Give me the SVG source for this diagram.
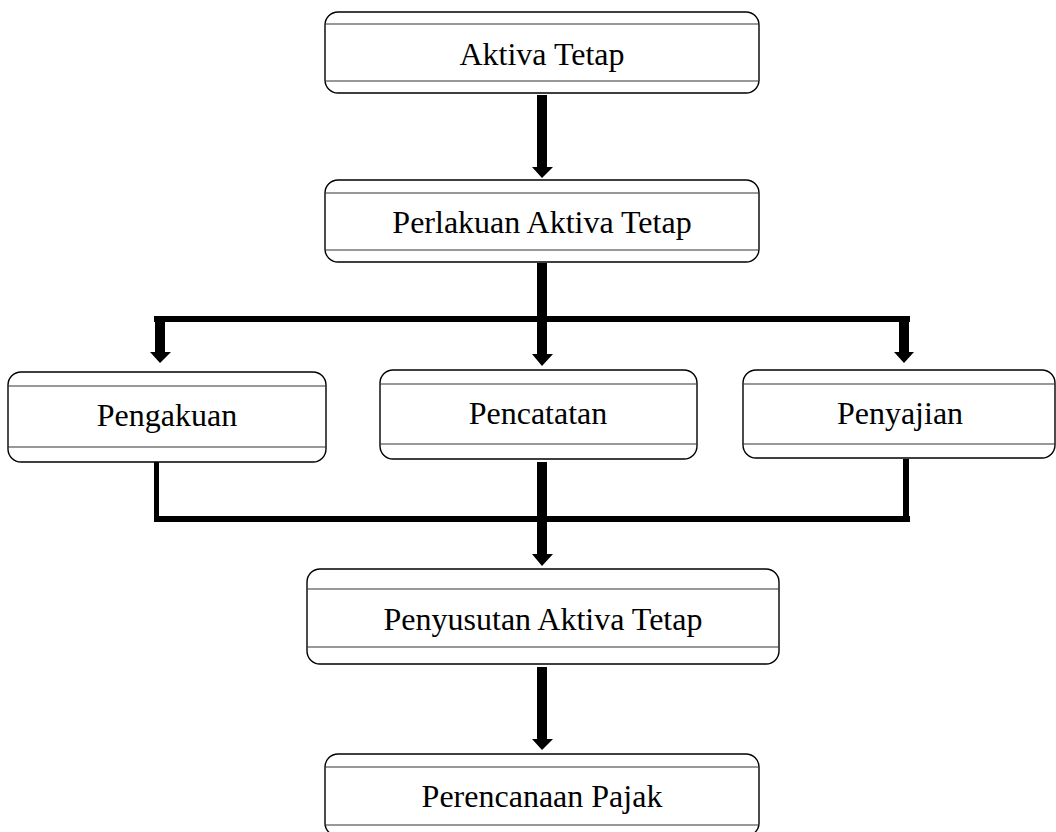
<svg xmlns="http://www.w3.org/2000/svg" width="1056" height="832" viewBox="0 0 1056 832">
<style>
.box{fill:#fff;stroke:#000;stroke-width:1.4}
.sep{stroke:#333;stroke-width:1.2}
.lbl{font-family:"Liberation Serif","Times New Roman",serif;font-size:32px;fill:#000;text-anchor:middle}
.bar{fill:#000}
</style>
<rect width="1056" height="832" fill="#fff"/>
<g id="connectors">
  <!-- Aktiva Tetap -> Perlakuan -->
  <polygon class="bar" points="537,95 547,95 547,167 553,167 542,178 532,167 537,167"/>
  <!-- Perlakuan -> split -->
  <polygon class="bar" points="537,263 547,263 547,354 553,354 542,366 532,354 537,354"/>
  <rect class="bar" x="154" y="316" width="756" height="6"/>
  <polygon class="bar" points="155,316 165,316 165,352 171,352 160,363 150,352 155,352"/>
  <polygon class="bar" points="899,316 909,316 909,352 914,352 904,363 894,352 899,352"/>
  <!-- merge -->
  <rect class="bar" x="154" y="462" width="5" height="60"/>
  <rect class="bar" x="903" y="459" width="6" height="63"/>
  <rect class="bar" x="154" y="516" width="756" height="6"/>
  <polygon class="bar" points="537,462 547,462 547,554 553,554 542,566 532,554 537,554"/>
  <!-- Penyusutan -> Perencanaan -->
  <polygon class="bar" points="537,667 547,667 547,739 553,739 542,750 532,739 537,739"/>
</g>
<g id="node-aktiva-tetap">
  <rect class="box" x="325" y="12" width="434" height="81" rx="13"/>
  <line class="sep" x1="325" y1="24" x2="759" y2="24"/>
  <line class="sep" x1="325" y1="81" x2="759" y2="81"/>
  <text class="lbl" x="542" y="65">Aktiva Tetap</text>
</g>
<g id="node-perlakuan">
  <rect class="box" x="325" y="180" width="434" height="82" rx="13"/>
  <line class="sep" x1="325" y1="193" x2="759" y2="193"/>
  <line class="sep" x1="325" y1="250" x2="759" y2="250"/>
  <text class="lbl" x="542" y="233">Perlakuan Aktiva Tetap</text>
</g>
<g id="node-pengakuan">
  <rect class="box" x="8" y="372" width="318" height="90" rx="13"/>
  <line class="sep" x1="8" y1="386" x2="326" y2="386"/>
  <line class="sep" x1="8" y1="447" x2="326" y2="447"/>
  <text class="lbl" x="167" y="426">Pengakuan</text>
</g>
<g id="node-pencatatan">
  <rect class="box" x="380" y="370" width="317" height="89" rx="13"/>
  <line class="sep" x1="380" y1="384" x2="697" y2="384"/>
  <line class="sep" x1="380" y1="444" x2="697" y2="444"/>
  <text class="lbl" x="538" y="424">Pencatatan</text>
</g>
<g id="node-penyajian">
  <rect class="box" x="743" y="370" width="312" height="88" rx="13"/>
  <line class="sep" x1="743" y1="384" x2="1055" y2="384"/>
  <line class="sep" x1="743" y1="444" x2="1055" y2="444"/>
  <text class="lbl" x="900" y="424">Penyajian</text>
</g>
<g id="node-penyusutan">
  <rect class="box" x="307" y="569" width="472" height="95" rx="13"/>
  <line class="sep" x1="307" y1="589" x2="779" y2="589"/>
  <line class="sep" x1="307" y1="647" x2="779" y2="647"/>
  <text class="lbl" x="543" y="630">Penyusutan Aktiva Tetap</text>
</g>
<g id="node-perencanaan">
  <rect class="box" x="325" y="754" width="434" height="82" rx="13"/>
  <line class="sep" x1="325" y1="767" x2="759" y2="767"/>
  <line class="sep" x1="325" y1="825" x2="759" y2="825"/>
  <text class="lbl" x="542" y="807">Perencanaan Pajak</text>
</g>
</svg>
